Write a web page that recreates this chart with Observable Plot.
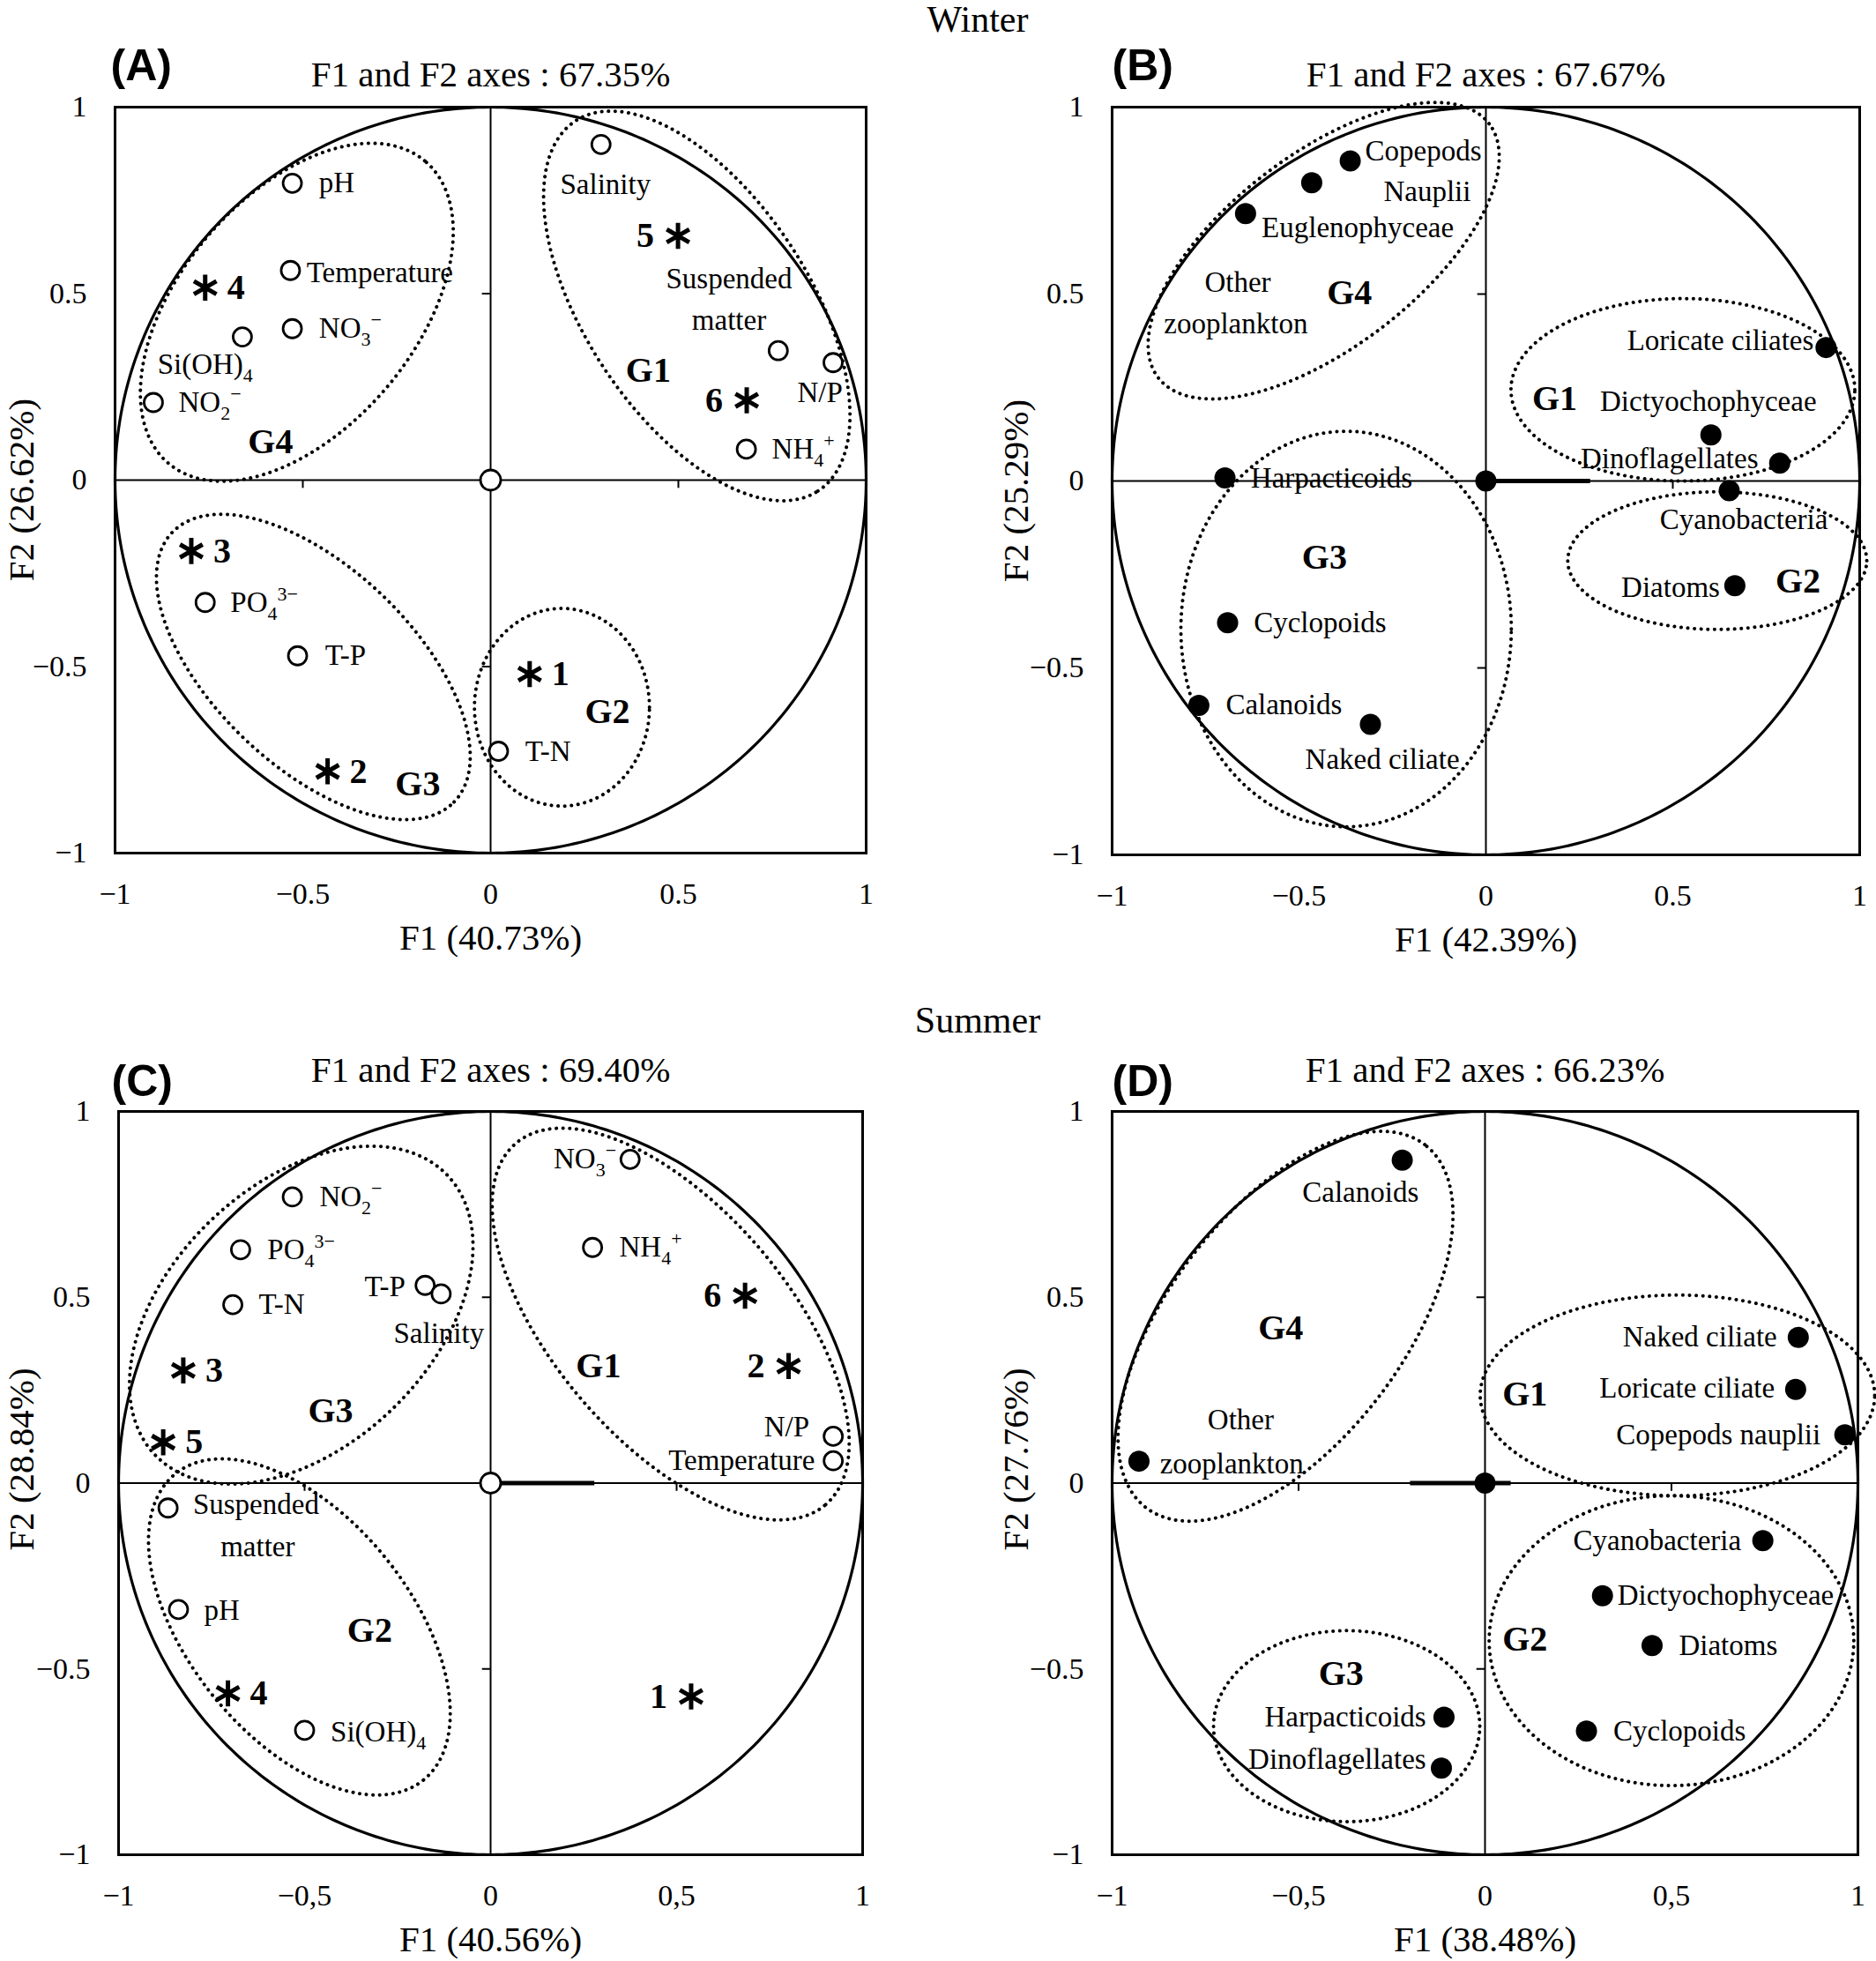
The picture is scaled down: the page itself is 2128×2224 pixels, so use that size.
<!DOCTYPE html>
<html><head><meta charset="utf-8">
<script src="https://cdn.jsdelivr.net/npm/d3@7"></script>
<script src="https://cdn.jsdelivr.net/npm/@observablehq/plot@0.6"></script>
<style>
html,body{margin:0;padding:0;background:#fff;}
#root{position:relative;width:2128px;height:2224px;overflow:hidden;background:#fff;}
.season{position:absolute;left:0;width:2218px;text-align:center;font-family:'Liberation Serif',serif;font-size:42px;line-height:42px;z-index:5;}
.pan{position:absolute;}
</style></head><body><div id="root"></div>
<script>
// ---------- shared tick values ----------
const TICKS = [-1, -0.5, 0, 0.5, 1];
const X_TICK_LABELS_WINTER = ["−1", "−0.5", "0", "0.5", "1"];
const X_TICK_LABELS_SUMMER = ["−1", "−0,5", "0", "0,5", "1"];
const Y_TICK_LABELS = ["−1", "−0.5", "0", "0.5", "1"];
const MINOR = [-0.5, 0.5];
const ORIGIN_F1 = [0];
const ORIGIN_F2 = [0];

// ---------- Panel A (winter, environmental variables) ----------
const A_vars = ["Salinity","Suspended matter","N/P","NH4+","pH","Temperature","NO3-","Si(OH)4","NO2-","PO4 3-","T-P","T-N"];
const A_f1 = [0.294, 0.766, 0.912, 0.681, -0.528, -0.533, -0.528, -0.661, -0.898, -0.760, -0.514, 0.021];
const A_f2 = [0.900, 0.347, 0.315, 0.083, 0.796, 0.562, 0.406, 0.384, 0.208, -0.328, -0.471, -0.727];
const A_labText = ["Salinity","Suspended","matter","N/P","NH_{4}^{+}","pH","Temperature","NO_{3}^{−}","Si(OH)_{4}","NO_{2}^{−}","PO_{4}^{3−}","T-P","T-N"];
const A_labX = [0.306, 0.635, 0.635, 0.877, 0.749, -0.457, -0.490, -0.457, -0.760, -0.831, -0.693, -0.441, 0.092];
const A_labY = [0.791, 0.538, 0.427, 0.235, 0.083, 0.796, 0.556, 0.406, 0.311, 0.208, -0.328, -0.471, -0.727];
const A_labAnchor = ["middle","middle","middle","middle","start","start","start","start","middle","start","start","start","start"];
const A_siteNum = ["5","6","4","3","2","1"];
const A_siteF1 = [0.499, 0.682, -0.760, -0.797, -0.434, 0.104];
const A_siteF2 = [0.655, 0.214, 0.516, -0.190, -0.781, -0.520];
const A_siteSide = ["left","left","right","right","right","right"];
const A_grp = ["G1","G2","G3","G4"];
const A_grpX = [0.420, 0.311, -0.194, -0.586];
const A_grpY = [0.294, -0.620, -0.816, 0.102];
const A_ellCx = [0.549, 0.190, -0.472, -0.516];
const A_ellCy = [0.467, -0.609, -0.501, 0.450];
const A_ellA = [0.592, 0.233, 0.521, 0.530];
const A_ellB = [0.298, 0.265, 0.266, 0.313];
const A_ellAngle = [-57, 0, -44, 50];

// ---------- Panel B (winter, plankton groups) ----------
const B_vars = ["Copepods Nauplii","Other zooplankton","Euglenophyceae","Loricate ciliates","Dictyochophyceae","Dinoflagellates","Cyanobacteria","Diatoms","Harpacticoids","Cyclopoids","Calanoids","Naked ciliate"];
const B_f1 = [-0.363, -0.466, -0.643, 0.910, 0.602, 0.786, 0.651, 0.666, -0.698, -0.691, -0.768, -0.309];
const B_f2 = [0.856, 0.798, 0.715, 0.357, 0.123, 0.048, -0.026, -0.280, 0.008, -0.379, -0.600, -0.651];
const B_labText = ["Copepods","Nauplii","Euglenophyceae","Other","zooplankton","Loricate ciliates","Dictyochophyceae","Dinoflagellates","Harpacticoids","Cyanobacteria","Diatoms","Cyclopoids","Calanoids","Naked ciliate"];
const B_labX = [-0.323, -0.157, -0.600, -0.664, -0.669, 0.877, 0.595, 0.491, -0.629, 0.690, 0.626, -0.621, -0.696, -0.277];
const B_labY = [0.883, 0.773, 0.677, 0.531, 0.421, 0.376, 0.213, 0.059, 0.008, -0.104, -0.285, -0.379, -0.600, -0.744];
const B_labAnchor = ["start","middle","start","middle","middle","end","middle","middle","start","middle","end","start","start","middle"];
const B_grp = ["G1","G2","G3","G4"];
const B_grpX = [0.184, 0.835, -0.432, -0.365];
const B_grpY = [0.221, -0.267, -0.205, 0.504];
const B_ellCx = [0.527, 0.619, -0.374, -0.434];
const B_ellCy = [0.244, -0.213, -0.396, 0.616];
const B_ellA = [0.460, 0.400, 0.442, 0.558];
const B_ellB = [0.244, 0.184, 0.529, 0.258];
const B_ellAngle = [0, 0, 0, 37.5];
const B_vector = [0, 0.28];

// ---------- Panel C (summer, environmental variables) ----------
const C_vars = ["NO3-","NH4+","N/P","Temperature","NO2-","PO4 3-","T-N","T-P","Salinity","Suspended matter","pH","Si(OH)4"];
const C_f1 = [0.375, 0.274, 0.921, 0.921, -0.533, -0.672, -0.693, -0.176, -0.133, -0.867, -0.839, -0.500];
const C_f2 = [0.871, 0.634, 0.126, 0.060, 0.770, 0.628, 0.480, 0.532, 0.509, -0.067, -0.340, -0.665];
const C_labText = ["NO_{3}^{−}","NH_{4}^{+}","N/P","Temperature","NO_{2}^{−}","PO_{4}^{3−}","T-N","T-P","Salinity","Suspended","matter","pH","Si(OH)_{4}"];
const C_labX = [0.338, 0.346, 0.796, 0.872, -0.460, -0.600, -0.623, -0.229, -0.139, -0.800, -0.626, -0.770, -0.430];
const C_labY = [0.871, 0.634, 0.151, 0.060, 0.770, 0.628, 0.480, 0.528, 0.403, -0.059, -0.171, -0.343, -0.670];
const C_labAnchor = ["end","start","middle","end","start","start","start","end","middle","start","middle","start","start"];
const C_siteNum = ["6","2","3","5","4","1"];
const C_siteF1 = [0.684, 0.801, -0.826, -0.880, -0.706, 0.539];
const C_siteF2 = [0.504, 0.315, 0.303, 0.110, -0.566, -0.574];
const C_siteSide = ["left","left","right","right","right","left"];
const C_grp = ["G1","G2","G3"];
const C_grpX = [0.290, -0.325, -0.430];
const C_grpY = [0.315, -0.397, 0.194];
const C_ellCx = [0.484, -0.514, -0.509];
const C_ellCy = [0.428, -0.387, 0.452];
const C_ellA = [0.640, 0.530, 0.544];
const C_ellB = [0.314, 0.297, 0.352];
const C_ellAngle = [-49.4, -51, 43.9];
const C_vector = [0, 0.28];

// ---------- Panel D (summer, plankton groups) ----------
const D_vars = ["Calanoids","Other zooplankton","Naked ciliate","Loricate ciliate","Copepods nauplii","Cyanobacteria","Dictyochophyceae","Diatoms","Cyclopoids","Harpacticoids","Dinoflagellates"];
const D_f1 = [-0.222, -0.928, 0.840, 0.833, 0.965, 0.745, 0.315, 0.448, 0.272, -0.110, -0.117];
const D_f2 = [0.869, 0.059, 0.392, 0.252, 0.130, -0.155, -0.303, -0.437, -0.667, -0.630, -0.767];
const D_labText = ["Calanoids","Other","zooplankton","Naked ciliate","Loricate ciliate","Copepods nauplii","Cyanobacteria","Dictyochophyceae","Diatoms","Cyclopoids","Harpacticoids","Dinoflagellates"];
const D_labX = [-0.334, -0.655, -0.872, 0.783, 0.777, 0.900, 0.687, 0.355, 0.520, 0.344, -0.158, -0.158];
const D_labY = [0.781, 0.170, 0.051, 0.392, 0.255, 0.130, -0.155, -0.303, -0.437, -0.667, -0.630, -0.743];
const D_labAnchor = ["middle","middle","start","end","end","end","end","start","start","start","end","end"];
const D_grp = ["G1","G2","G3","G4"];
const D_grpX = [0.107, 0.107, -0.386, -0.548];
const D_grpY = [0.239, -0.421, -0.514, 0.416];
const D_ellCx = [0.516, 0.500, -0.371, -0.535];
const D_ellCy = [0.236, -0.424, -0.654, 0.422];
const D_ellA = [0.529, 0.489, 0.357, 0.615];
const D_ellB = [0.270, 0.390, 0.257, 0.314];
const D_ellAngle = [0, 0, 0, 52.6];
const D_vector = [-0.2, 0.07];

// ---------- helpers ----------
function unitCircle() {
  return d3.range(0, 360, 1).map(a => ({x: Math.cos(a * Math.PI / 180), y: Math.sin(a * Math.PI / 180)}));
}
function ellipses(grp, cx, cy, ea, eb, ang) {
  const out = [];
  grp.forEach((g, k) => {
    const th = ang[k] * Math.PI / 180;
    for (let t = 0; t < 360; t += 2) {
      const u = t * Math.PI / 180;
      const ex = ea[k] * Math.cos(u), ey = eb[k] * Math.sin(u);
      out.push({g, x: cx[k] + ex * Math.cos(th) - ey * Math.sin(th), y: cy[k] + ex * Math.sin(th) + ey * Math.cos(th)});
    }
  });
  return out;
}
function richText(svg) {
  d3.select(svg).selectAll("text").each(function() {
    const el = this;
    if (el.querySelector("tspan")) return;
    const s = el.textContent;
    if (!/[_^]\{/.test(s)) return;
    const parts = s.split(/(_\{[^}]*\}|\^\{[^}]*\})/).filter(x => x);
    el.textContent = "";
    let off = 0;
    for (const part of parts) {
      const ts = document.createElementNS("http://www.w3.org/2000/svg", "tspan");
      let target = 0, txt = part;
      if (part.startsWith("_{")) { target = 9; txt = part.slice(2, -1); ts.setAttribute("font-size", "22"); }
      else if (part.startsWith("^{")) { target = -13; txt = part.slice(2, -1); ts.setAttribute("font-size", "22"); }
      ts.setAttribute("dy", String(target - off));
      off = target;
      ts.textContent = txt;
      el.appendChild(ts);
    }
  });
}

function makePanel(P) {
  const xMap = new Map(TICKS.map((t, i) => [t, P.xTickLabels[i]]));
  const yMap = new Map(TICKS.map((t, i) => [t, Y_TICK_LABELS[i]]));
  const pts = d3.range(P.f1.length);
  const labs = d3.range(P.labText.length);
  const grps = d3.range(P.grp.length);
  const marks = [
    Plot.axisX(TICKS, {tickSize: 0, tickPadding: 33, tickFormat: d => xMap.get(d), fontSize: 34, label: null}),
    Plot.axisY(TICKS, {tickSize: 0, tickPadding: 32, tickFormat: d => yMap.get(d), fontSize: 34, label: null}),
    Plot.frame({stroke: "black", strokeWidth: 3}),
    Plot.ruleX([0], {stroke: "black", strokeWidth: 2}),
    Plot.ruleY([0], {stroke: "black", strokeWidth: 2}),
    Plot.ruleY(MINOR, {x1: -0.022, x2: 0, stroke: "black", strokeWidth: 2}),
    Plot.ruleX(MINOR, {y1: -0.022, y2: 0, stroke: "black", strokeWidth: 2}),
    Plot.line(unitCircle(), {x: "x", y: "y", curve: "linear-closed", stroke: "black", strokeWidth: 3.2}),
    Plot.line(ellipses(P.grp, P.ellCx, P.ellCy, P.ellA, P.ellB, P.ellAngle), {x: "x", y: "y", z: "g", curve: "linear-closed", stroke: "black", strokeWidth: 4, strokeDasharray: "0.1 7.5", strokeLinecap: "round"})
  ];
  if (P.vector) marks.push(Plot.ruleY([0], {x1: P.vector[0], x2: P.vector[1], stroke: "black", strokeWidth: 5}));
  if (P.filled) {
    marks.push(Plot.dot(pts, {x: i => P.f1[i], y: i => P.f2[i], r: 12, fill: "black", title: i => P.vars[i]}));
    marks.push(Plot.dot(d3.range(ORIGIN_F1.length), {x: i => ORIGIN_F1[i], y: i => ORIGIN_F2[i], r: 12, fill: "black"}));
  } else {
    marks.push(Plot.dot(pts, {x: i => P.f1[i], y: i => P.f2[i], r: 10.5, fill: "white", stroke: "black", strokeWidth: 2.8, title: i => P.vars[i]}));
    marks.push(Plot.dot(d3.range(ORIGIN_F1.length), {x: i => ORIGIN_F1[i], y: i => ORIGIN_F2[i], r: 11.5, fill: "white", stroke: "black", strokeWidth: 2.8}));
  }
  if (P.siteNum) {
    const sites = d3.range(P.siteNum.length);
    marks.push(Plot.dot(sites, {x: i => P.siteF1[i], y: i => P.siteF2[i], symbol: "asterisk", r: 14, stroke: "black", strokeWidth: 5}));
    marks.push(Plot.text(sites.filter(i => P.siteSide[i] === "right"), {x: i => P.siteF1[i], y: i => P.siteF2[i], text: i => P.siteNum[i], dx: 35, textAnchor: "middle", lineAnchor: "middle", fontSize: 40, fontWeight: "bold"}));
    marks.push(Plot.text(sites.filter(i => P.siteSide[i] === "left"), {x: i => P.siteF1[i], y: i => P.siteF2[i], text: i => P.siteNum[i], dx: -37, textAnchor: "middle", lineAnchor: "middle", fontSize: 40, fontWeight: "bold"}));
  }
  for (const anchor of ["start", "middle", "end"]) {
    marks.push(Plot.text(labs.filter(i => P.labAnchor[i] === anchor), {x: i => P.labX[i], y: i => P.labY[i], text: i => P.labText[i], textAnchor: anchor, lineAnchor: "middle", fontSize: 33}));
  }
  marks.push(Plot.text(grps, {x: i => P.grpX[i], y: i => P.grpY[i], text: i => P.grp[i], textAnchor: "middle", lineAnchor: "middle", fontSize: 40, fontWeight: "bold"}));
  marks.push(Plot.text([P.title], {text: d => d, frameAnchor: "top", textAnchor: "middle", lineAnchor: "middle", dy: P.titleDy, fontSize: 41}));
  marks.push(Plot.text([P.letter], {text: d => d, frameAnchor: "top-left", textAnchor: "start", lineAnchor: "middle", dx: P.letterDx, dy: P.letterDy, fontSize: 50, fontWeight: "bold", fontFamily: "'Liberation Sans', Arial, sans-serif"}));
  marks.push(Plot.text([P.xTitle], {text: d => d, frameAnchor: "bottom", textAnchor: "middle", lineAnchor: "middle", dy: 96, fontSize: 41}));
  marks.push(Plot.text([P.yTitle], {text: d => d, frameAnchor: "left", textAnchor: "middle", lineAnchor: "middle", rotate: -90, dx: P.yTitleDx, dy: P.yTitleDy, fontSize: 41}));

  const svg = Plot.plot({
    width: P.w, height: P.h,
    marginLeft: P.ml, marginRight: P.mr, marginTop: P.mt, marginBottom: P.mb,
    x: {domain: [-1, 1]}, y: {domain: [-1, 1]},
    style: {fontFamily: "'Liberation Serif', 'Times New Roman', serif", fontSize: "33px", background: "transparent", overflow: "visible", color: "black"},
    marks
  });
  richText(svg);
  const wrap = document.createElement("div");
  wrap.className = "pan";
  wrap.style.left = P.left + "px";
  wrap.style.top = P.top + "px";
  wrap.appendChild(svg);
  document.getElementById("root").appendChild(wrap);
}

// ---------- season headings ----------
for (const [txt, top] of [["Winter", 1], ["Summer", 1136]]) {
  const d = document.createElement("div");
  d.className = "season";
  d.style.top = top + "px";
  d.textContent = txt;
  document.getElementById("root").appendChild(d);
}

makePanel({left: 0, top: 0, w: 1064, h: 1110, ml: 130, mr: 82, mt: 121, mb: 143,
  vars: A_vars, f1: A_f1, f2: A_f2, labText: A_labText, labX: A_labX, labY: A_labY, labAnchor: A_labAnchor,
  siteNum: A_siteNum, siteF1: A_siteF1, siteF2: A_siteF2, siteSide: A_siteSide,
  grp: A_grp, grpX: A_grpX, grpY: A_grpY, ellCx: A_ellCx, ellCy: A_ellCy, ellA: A_ellA, ellB: A_ellB, ellAngle: A_ellAngle,
  filled: false, vector: null, xTickLabels: X_TICK_LABELS_WINTER,
  title: "F1 and F2 axes : 67.35%", letter: "(A)", xTitle: "F1 (40.73%)", yTitle: "F2 (26.62%)",
  titleDy: -37, letterDx: -5, letterDy: -47, yTitleDx: -106, yTitleDy: 11});

makePanel({left: 1064, top: 0, w: 1064, h: 1110, ml: 197, mr: 19, mt: 121, mb: 141,
  vars: B_vars, f1: B_f1, f2: B_f2, labText: B_labText, labX: B_labX, labY: B_labY, labAnchor: B_labAnchor,
  grp: B_grp, grpX: B_grpX, grpY: B_grpY, ellCx: B_ellCx, ellCy: B_ellCy, ellA: B_ellA, ellB: B_ellB, ellAngle: B_ellAngle,
  filled: true, vector: B_vector, xTickLabels: X_TICK_LABELS_WINTER,
  title: "F1 and F2 axes : 67.67%", letter: "(B)", xTitle: "F1 (42.39%)", yTitle: "F2 (25.29%)",
  titleDy: -37, letterDx: 0, letterDy: -47, yTitleDx: -109, yTitleDy: 11});

makePanel({left: 0, top: 1140, w: 1064, h: 1084, ml: 134, mr: 86, mt: 120, mb: 121,
  vars: C_vars, f1: C_f1, f2: C_f2, labText: C_labText, labX: C_labX, labY: C_labY, labAnchor: C_labAnchor,
  siteNum: C_siteNum, siteF1: C_siteF1, siteF2: C_siteF2, siteSide: C_siteSide,
  grp: C_grp, grpX: C_grpX, grpY: C_grpY, ellCx: C_ellCx, ellCy: C_ellCy, ellA: C_ellA, ellB: C_ellB, ellAngle: C_ellAngle,
  filled: false, vector: C_vector, xTickLabels: X_TICK_LABELS_SUMMER,
  title: "F1 and F2 axes : 69.40%", letter: "(C)", xTitle: "F1 (40.56%)", yTitle: "F2 (28.84%)",
  titleDy: -47, letterDx: -8, letterDy: -34, yTitleDx: -110, yTitleDy: -27});

makePanel({left: 1064, top: 1140, w: 1064, h: 1084, ml: 197, mr: 21, mt: 120, mb: 121,
  vars: D_vars, f1: D_f1, f2: D_f2, labText: D_labText, labX: D_labX, labY: D_labY, labAnchor: D_labAnchor,
  grp: D_grp, grpX: D_grpX, grpY: D_grpY, ellCx: D_ellCx, ellCy: D_ellCy, ellA: D_ellA, ellB: D_ellB, ellAngle: D_ellAngle,
  filled: true, vector: D_vector, xTickLabels: X_TICK_LABELS_SUMMER,
  title: "F1 and F2 axes : 66.23%", letter: "(D)", xTitle: "F1 (38.48%)", yTitle: "F2 (27.76%)",
  titleDy: -47, letterDx: 0, letterDy: -34, yTitleDx: -109, yTitleDy: -27});
</script></body></html>
